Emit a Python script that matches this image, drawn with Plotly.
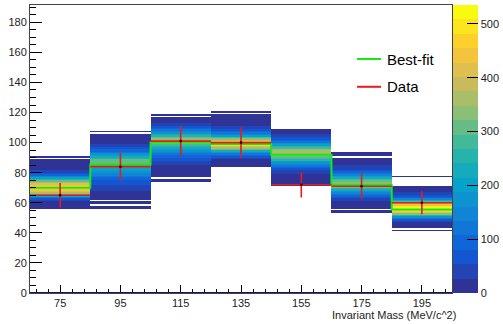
import numpy as np
import plotly.graph_objects as go

# Mass bins (MeV/c^2)
mass_centres = [75, 95, 115, 135, 155, 175, 195]
bin_width = 20

# Best-fit spectrum and observed data with Poisson errors
best_fit = [70, 85.5, 100, 99, 92, 72, 55.5]
data_counts = [65, 84, 101, 100, 72, 71, 60]
data_errors = [8.1, 9.2, 10.0, 10.0, 8.5, 8.4, 7.7]

# Pseudo-experiment distribution of the yield in each mass bin:
# first yield bin (1 unit wide) and the number of toys in each yield bin.
toys_75_start = 56
toys_75 = [5, 8, 12, 18, 26, 40, 70, 120, 190, 270, 350, 410, 440, 455, 455,
           445, 415, 370, 310, 250, 190, 140, 100, 70, 50, 35, 26, 18, 12, 8,
           5, 4, 3, None, 2]
toys_95_start = 56
toys_95 = [3, 3, None, 4, 5, None, 7, 9, 11, 14, 18, 22, 27, 35, 45, 52, 60,
           70, 80, 90, 102, 118, 135, 152, 172, 192, 212, 240, 270, 300, 318,
           315, 295, 262, 228, 195, 162, 132, 105, 82, 62, 45, 32, 22, 16, 11,
           8, 6, 5, 4, None, 3]
toys_115_start = 74
toys_115 = [3, 3, None, 4, 5, 7, 9, 12, 15, 19, 24, 30, 38, 48, 60, 72, 86,
            102, 120, 140, 162, 188, 215, 250, 290, 330, 355, 360, 345, 310,
            265, 220, 180, 145, 112, 85, 62, 45, 32, 23, 16, 11, 8, None, 3]
toys_135_start = 84
toys_135 = [4, 6, 9, 14, 22, 35, 55, 85, 125, 175, 235, 300, 365, 420, 455,
            460, 440, 395, 335, 270, 210, 158, 115, 82, 58, 40, 28, 20, 14, 10,
            7, 5, 4, 3, 3, None, 2]
toys_155_start = 71
toys_155 = [3, 4, 6, 8, 11, 15, 20, 24, 28, 36, 48, 65, 95, 120, 148, 180, 212,
            248, 285, 318, 345, 360, 362, 350, 325, 290, 250, 208, 168, 132,
            100, 75, 55, 40, 28, 20, 14, 9]
toys_175_start = 53
toys_175 = [3, 4, None, 6, 9, 13, 18, 25, 34, 46, 62, 82, 108, 140, 178, 220,
            262, 300, 330, 342, 335, 310, 272, 230, 188, 150, 118, 90, 68, 50,
            37, 27, 19, 14, 10, 7, 5, None, 4, 3, 2]
toys_195_start = 41
toys_195 = [3, None, 5, 8, 14, 24, 40, 68, 110, 170, 245, 330, 410, 475, 515,
            530, 500, 445, 370, 290, 215, 152, 105, 70, 46, 30, 20, 13, 9, 5,
            None, None, None, None, None, None, 3]

toy_columns = [
    (toys_75_start, toys_75), (toys_95_start, toys_95),
    (toys_115_start, toys_115), (toys_135_start, toys_135),
    (toys_155_start, toys_155), (toys_175_start, toys_175),
    (toys_195_start, toys_195),
]

# Histogram binning
x_edges = [c - bin_width / 2 for c in mass_centres] + [mass_centres[-1] + bin_width / 2]
y_lo, y_hi = 40, 122
y_edges = list(range(y_lo, y_hi + 1))
z = [[None] * len(mass_centres) for _ in range(y_hi - y_lo)]
for col, (start, values) in enumerate(toy_columns):
    for j, v in enumerate(values):
        z[start + j - y_lo][col] = v

# "Bird"-style palette, quantised into 20 contour levels
bird_stops = [0.0, 0.125, 0.25, 0.375, 0.5, 0.625, 0.75, 0.875, 1.0]
bird_r = [0.1900, 0.0592, 0.0780, 0.0232, 0.1802, 0.5301, 0.8186, 0.9956, 0.9764]
bird_g = [0.2000, 0.3599, 0.5041, 0.6419, 0.7178, 0.7492, 0.7328, 0.7862, 0.9832]
bird_b = [0.5900, 0.8684, 0.8385, 0.7914, 0.6425, 0.4662, 0.3499, 0.1968, 0.0539]
n_levels = 20
colorscale = []
for i in range(n_levels):
    f = i / (n_levels - 1)
    r = np.interp(f, bird_stops, bird_r) * 255
    g = np.interp(f, bird_stops, bird_g) * 255
    b = np.interp(f, bird_stops, bird_b) * 255
    c = f"rgb({r:.0f},{g:.0f},{b:.0f})"
    colorscale.append([i / n_levels, c])
    colorscale.append([(i + 1) / n_levels, c])

FONT = "Liberation Sans, Arial, Helvetica, sans-serif"
GREEN = "rgb(20,235,20)"
RED = "rgb(235,25,25)"

fig = go.Figure()

fig.add_trace(go.Heatmap(
    x=x_edges, y=y_edges, z=z,
    zmin=0, zmax=535, colorscale=colorscale, zsmooth=False,
    hoverinfo="skip", showscale=True,
    colorbar=dict(
        thickness=25, thicknessmode="pixels",
        len=1, lenmode="fraction", y=0.5, yanchor="middle",
        x=1.0, xanchor="left", xpad=1, ypad=0,
        outlinewidth=0,
        ticks="inside", ticklen=11, tickwidth=1, tickcolor="black",
        tickvals=[0, 100, 200, 300, 400, 500],
        tickfont=dict(family=FONT, size=11, color="#222"),
    ),
))

# Best-fit spectrum as a step histogram
fig.add_trace(go.Scatter(
    x=x_edges, y=best_fit + [best_fit[-1]],
    mode="lines", line=dict(color=GREEN, width=2, shape="hv"),
    hoverinfo="skip", showlegend=False,
))

# Data points with bin-width and Poisson error bars
fig.add_trace(go.Scatter(
    x=mass_centres, y=data_counts, mode="markers",
    marker=dict(size=2.5, color="black"),
    error_x=dict(type="constant", value=bin_width / 2, width=0, thickness=1.6, color=RED),
    error_y=dict(type="data", array=data_errors, width=0, thickness=1.6, color=RED),
    hoverinfo="skip", showlegend=False,
))

# Legend entries
legend_items = [("Best-fit", GREEN, 0.8125), ("Data", RED, 0.716)]
shapes = []
annotations = []
for label, colour, ypos in legend_items:
    shapes.append(dict(type="line", xref="paper", yref="paper",
                       x0=0.775, x1=0.832, y0=ypos, y1=ypos,
                       line=dict(color=colour, width=2)))
    annotations.append(dict(text=label, xref="paper", yref="paper",
                            x=0.841, y=ypos, xanchor="left", yanchor="middle",
                            showarrow=False,
                            font=dict(family=FONT, size=15, color="black")))

# Thick baseline along the x axis
shapes.append(dict(type="line", xref="x", yref="y", x0=x_edges[0], x1=x_edges[-1],
                   y0=0, y1=0, line=dict(color="#15155e", width=2)))

annotations.append(dict(text="Invariant Mass (MeV/c^2)", xref="paper", yref="paper",
                        x=1.014, y=-0.076, xanchor="right", yanchor="middle",
                        showarrow=False,
                        font=dict(family=FONT, size=11, color="#222")))

fig.update_layout(
    width=503, height=324,
    margin=dict(l=30, r=51, t=5, b=31, autoexpand=False),
    paper_bgcolor="white", plot_bgcolor="white",
    font=dict(family=FONT, size=11, color="#222"),
    shapes=shapes, annotations=annotations,
    showlegend=False,
)

fig.update_xaxes(
    range=[x_edges[0], x_edges[-1]],
    tick0=75, dtick=20, ticks="inside", ticklen=8, tickcolor="black",
    minor=dict(tick0=75, dtick=4, ticks="inside", ticklen=4, tickcolor="black"),
    showgrid=False, zeroline=False,
    showline=True, linecolor="#444", linewidth=1, mirror=True,
    tickfont=dict(family=FONT, size=11, color="#222"),
)
fig.update_yaxes(
    range=[0, 191.5],
    tick0=0, dtick=20, ticks="inside", ticklen=12, tickcolor="black",
    minor=dict(tick0=0, dtick=5, ticks="inside", ticklen=6, tickcolor="black"),
    showgrid=False, zeroline=False,
    showline=True, linecolor="#444", linewidth=1, mirror=True,
    tickfont=dict(family=FONT, size=11, color="#222"),
)

fig.write_html("out.html")
